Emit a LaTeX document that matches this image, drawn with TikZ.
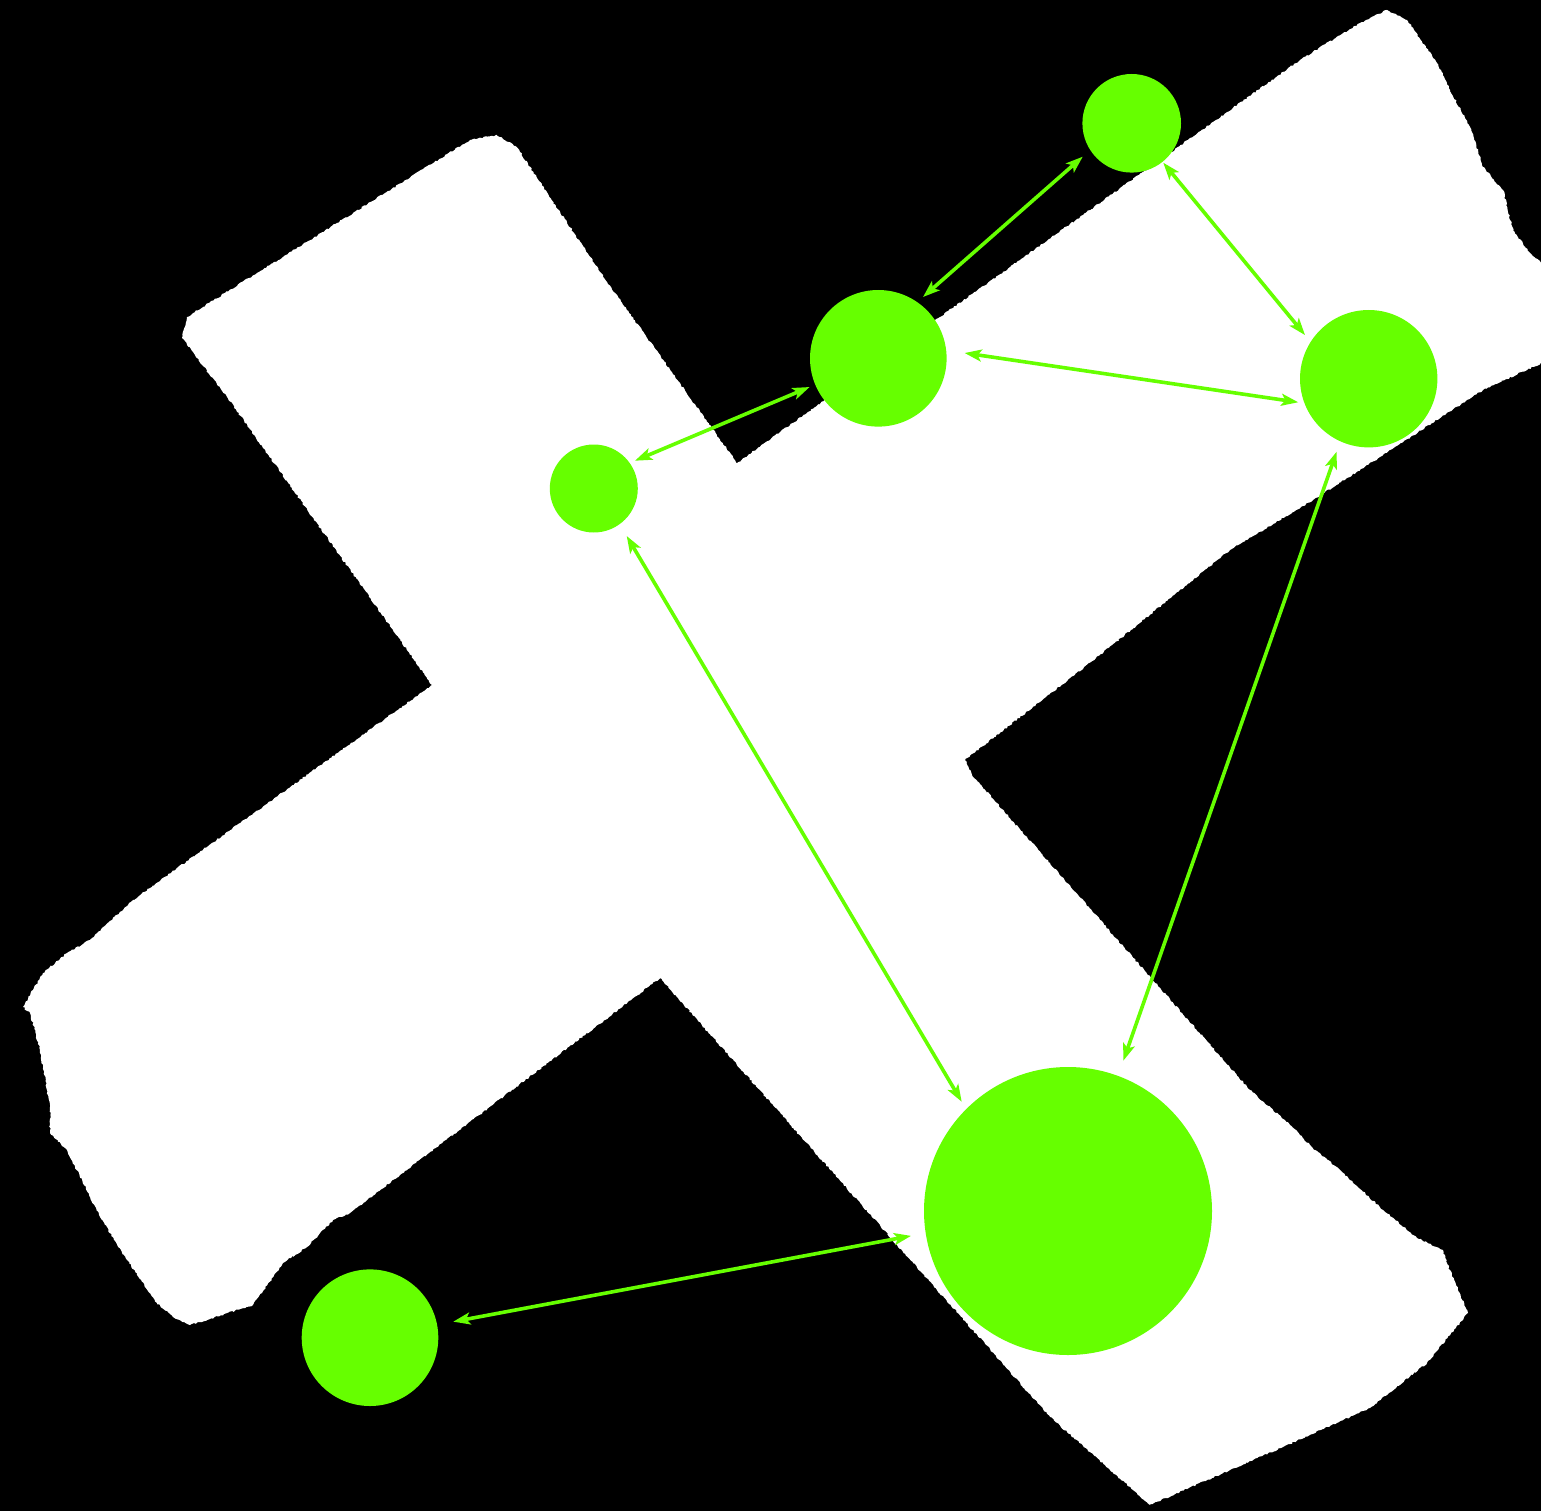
\documentclass[tikz,border=0pt]{standalone}
\usetikzlibrary{arrows.meta,decorations.pathmorphing}
\definecolor{lime}{RGB}{102,255,0}
\begin{document}
\begin{tikzpicture}[x=1pt,y=1pt,
  ball/.style={circle,fill=lime,draw=none,inner sep=0pt},
  tip/.tip={Stealth[length=17pt,width=12pt,inset=4pt]},
  link/.style={color=lime,line width=3.6pt,tip-tip},
  rough/.style={decorate,decoration={random steps,segment length=2pt,amplitude=0.8pt}}]
\fill[black] (0,0) rectangle (1541,-1511);
\useasboundingbox (0,0) rectangle (1541,-1511);
\clip (0,0) rectangle (1541,-1511);
\fill[white,rough]
 (496.7,-135) -- (516.7,-147) -- (600,-272) -- (737,-463) -- (940,-317) -- (1300,-60)
 -- (1360,-23) -- (1387,-10) -- (1407,-20) -- (1437,-63) -- (1450,-90) -- (1470,-127)
 -- (1483,-167) -- (1503,-190) -- (1513,-230) -- (1530,-253) -- (1548,-268)
 -- (1548,-360) -- (1483,-390) -- (1380,-457) -- (1313,-500) -- (1230,-550)
 -- (1100,-655) -- (965,-760) -- (972,-775) -- (1100,-920) -- (1250,-1090)
 -- (1290,-1125) -- (1315,-1150) -- (1340,-1170) -- (1383,-1210) -- (1417,-1238)
 -- (1443,-1250) -- (1447,-1263) -- (1468,-1313) -- (1427,-1363) -- (1370,-1408)
 -- (1283,-1447) -- (1150,-1505) -- (1050,-1417) -- (660,-978) -- (350,-1213)
 -- (333,-1220) -- (307,-1247) -- (283,-1263) -- (273,-1277) -- (253,-1305)
 -- (200,-1322) -- (190,-1325) -- (173,-1317) -- (157,-1303) -- (127,-1260)
 -- (100,-1217) -- (67,-1150) -- (50,-1133) -- (50,-1107) -- (40,-1050)
 -- (30,-1013) -- (23,-1007) -- (33,-990) -- (43,-973) -- (67,-953) -- (90,-940)
 -- (133,-900) -- (432,-685) -- (227,-397) -- (182,-338) -- (187,-317)
 -- (193,-313) -- (470,-140) -- cycle;
\node[ball,minimum size=98.6pt]  (A) at (1131.7,-123.3) {};
\node[ball,minimum size=136.6pt] (B) at (878.3,-358.3) {};
\node[ball,minimum size=88pt]    (C) at (593.8,-488.5) {};
\node[ball,minimum size=137.4pt] (D) at (1368.7,-378.7) {};
\node[ball,minimum size=288pt]   (E) at (1068,-1211) {};
\node[ball,minimum size=136.6pt] (F) at (370,-1337.7) {};
\draw[link] ([shift={(214.3:59.3)}]A.center) -- ([shift={(53.9:75.9)}]B.center);
\draw[link] ([shift={(-51.3:50.5)}]A.center) -- ([shift={(145.6:77.2)}]D.center);
\draw[link] ([shift={(3.5:86.5)}]B.center) -- ([shift={(198.5:74.3)}]D.center);
\draw[link] ([shift={(202.7:74.5)}]B.center) -- ([shift={(34:49.7)}]C.center);
\draw[link] ([shift={(-55.3:57.8)}]C.center) -- ([shift={(134.2:152.5)}]E.center);
\draw[link] ([shift={(246.3:79.7)}]D.center) -- ([shift={(69.8:160.2)}]E.center);
\draw[link] ([shift={(189:159)}]E.center) -- ([shift={(10.9:84.8)}]F.center);
\end{tikzpicture}
\end{document}
